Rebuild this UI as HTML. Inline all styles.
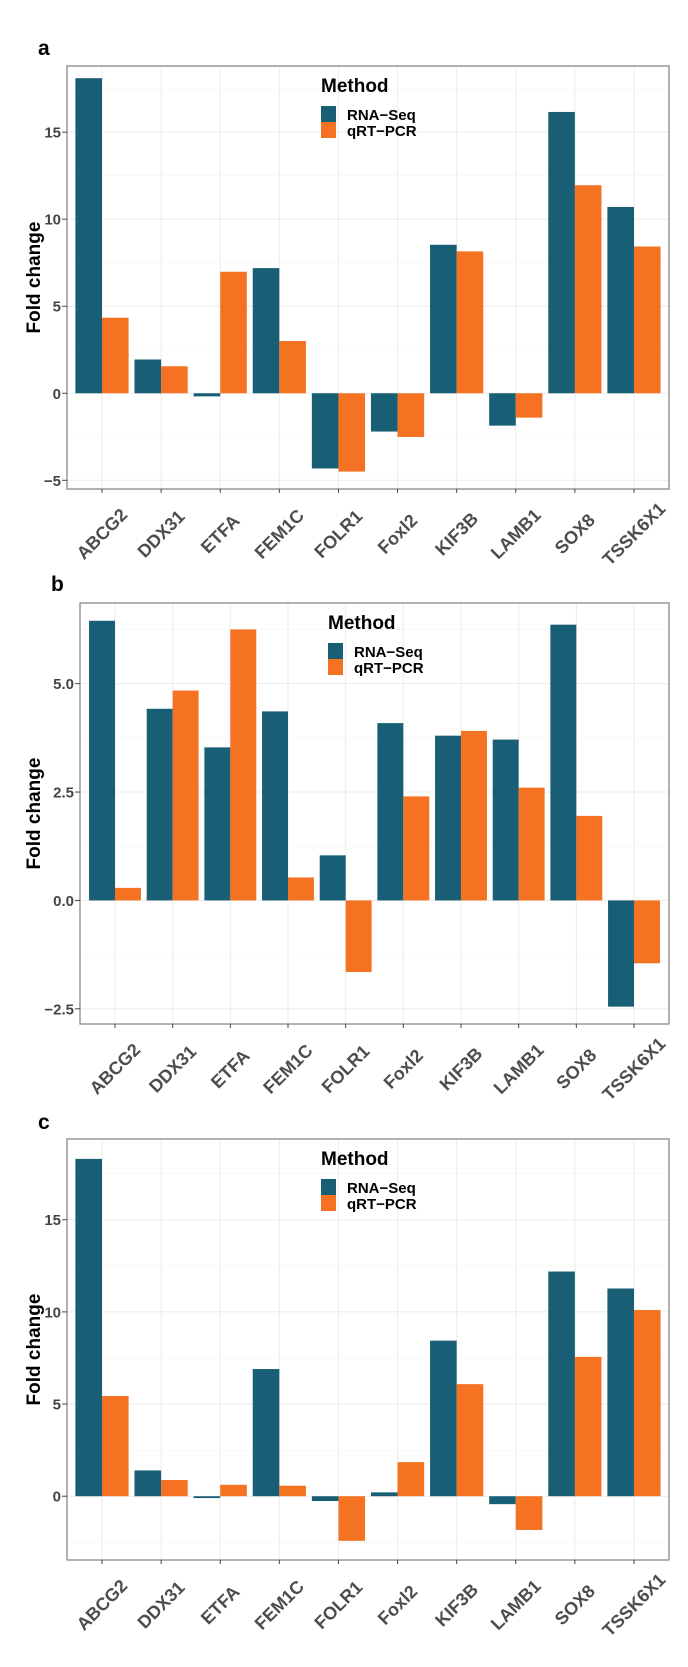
<!DOCTYPE html>
<html><head><meta charset="utf-8"><style>
html,body{margin:0;padding:0;background:#fff;}
svg{display:block;font-family:"Liberation Sans",Arial,sans-serif;}
</style></head><body>
<svg id="fig" width="688" height="1667" viewBox="0 0 688 1667"></svg>
<script>
const categories = ["ABCG2","DDX31","ETFA","FEM1C","FOLR1","Foxl2","KIF3B","LAMB1","SOX8","TSSK6X1"];
const seriesNames = ["RNA\u2212Seq","qRT\u2212PCR"];
const rnaA = [18.1,1.94,-0.18,7.19,-4.32,-2.2,8.53,-1.86,16.16,10.7];
const qpcrA = [4.34,1.55,6.98,3.0,-4.5,-2.51,8.15,-1.4,11.95,8.43];
const rnaB = [6.45,4.42,3.53,4.36,1.04,4.09,3.8,3.71,6.36,-2.45];
const qpcrB = [0.29,4.84,6.25,0.53,-1.65,2.4,3.91,2.6,1.95,-1.45];
const rnaC = [18.3,1.4,-0.1,6.9,-0.26,0.21,8.44,-0.43,12.19,11.27];
const qpcrC = [5.44,0.88,0.62,0.57,-2.42,1.85,6.08,-1.83,7.56,10.1];
const ticksA = [-5,0,5,10,15];
const tickLabelsA = ["\u22125","0","5","10","15"];
const ticksB = [-2.5,0,2.5,5];
const tickLabelsB = ["\u22122.5","0.0","2.5","5.0"];
const ticksC = [0,5,10,15];
const tickLabelsC = ["0","5","10","15"];

const NS="http://www.w3.org/2000/svg";
const svg=document.getElementById('fig');
const COLORS=["#185f75","#f47221"];
function mk(tag,attrs,parent){const e=document.createElementNS(NS,tag);for(const k in attrs)e.setAttribute(k,attrs[k]);(parent||svg).appendChild(e);return e;}

function panel(cfg){
  const g=mk('g',{});
  
  
  const L=cfg.left,R=669,T=cfg.top,B=cfg.bottom;
  const y=v=>T+(cfg.ymax-v)/(cfg.ymax-cfg.ymin)*(B-T);
  const n=categories.length;
  const step=(cfg.lastTick-cfg.firstTick)/(n-1);
  const x=i=>cfg.firstTick+i*step;
  const lt=mk('text',{x:cfg.letterX,y:cfg.letterY,'font-size':21,'font-weight':'bold',fill:'#000'},g);
  lt.textContent=cfg.letter;
  
  
  mk('rect',{x:L,y:T,width:R-L,height:B-T,fill:'#fff'},g);
  const grid=mk('g',{},g);
  
  
  const tk=cfg.ticks, d=tk[1]-tk[0];
  for(let v=tk[0]-d;v<=cfg.ymax+d;v+=d/2){
    const yy=y(v); if(yy<T||yy>B) continue;
    const major=tk.some(t=>Math.abs(t-v)<1e-6);
    mk('line',{x1:L,x2:R,y1:yy,y2:yy,stroke:major?'#ebebeb':'#f3f3f3','stroke-width':major?1:0.6},grid);
  }
  for(let i=0;i<n;i++) mk('line',{x1:x(i),x2:x(i),y1:T,y2:B,stroke:'#ebebeb','stroke-width':1},grid);
  const bw=step*0.45;
  [cfg.s1,cfg.s2].forEach((arr,si)=>{
    arr.forEach((v,i)=>{
      const x0=x(i)+(si===0?-bw:0);
      const y0=Math.min(y(v),y(0)), h=Math.abs(y(v)-y(0));
      const r=mk('rect',{x:x0,y:y0,width:bw,height:Math.max(h,0.8),fill:COLORS[si]},g);
      
      
    });
  });
  mk('rect',{x:L,y:T,width:R-L,height:B-T,fill:'none',stroke:'#7f7f7f','stroke-width':1.2},g);
  const ya=mk('g',{},g);
  
  
  cfg.ticks.forEach((t,i)=>{
    const yy=y(t);
    mk('line',{x1:L-5,x2:L,y1:yy,y2:yy,stroke:'#444','stroke-width':1},ya);
    const tx=mk('text',{x:L-6,y:yy+5.5,'font-size':15,'font-weight':'bold',fill:'#444','text-anchor':'end'},ya);
    tx.textContent=cfg.tickLabels[i];
  });
  const yt=mk('text',{x:0,y:0,'font-size':19,'font-weight':'bold',fill:'#000','text-anchor':'middle',transform:`translate(40,${(T+B)/2}) rotate(-90)`},g);
  yt.textContent='Fold change';
  
  
  const xa=mk('g',{},g);
  
  
  categories.forEach((c,i)=>{
    mk('line',{x1:x(i),x2:x(i),y1:B,y2:B+4,stroke:'#444','stroke-width':1},xa);
    const cy=B+45;
    const tx=mk('text',{x:x(i),y:cy,'font-size':18,'font-weight':'bold',fill:'#4d4d4d','text-anchor':'middle','dominant-baseline':'central',transform:`rotate(-45 ${x(i)} ${cy})`},xa);
    tx.textContent=c;
  });
  const lg=mk('g',{},g);
  
  
  const lx=cfg.legX;
  const ttl=mk('text',{x:lx,y:T+26,'font-size':19,'font-weight':'bold',fill:'#000'},lg);
  ttl.textContent='Method';
  seriesNames.forEach((s,si)=>{
    const by=T+40+si*16;
    mk('rect',{x:lx,y:by,width:15,height:16,fill:COLORS[si]},lg);
    const t=mk('text',{x:lx+26,y:by+14,'font-size':15,'font-weight':'bold',fill:'#000'},lg);
    t.textContent=s;
  });
}
panel({letter:'a',letterX:38,letterY:55,left:67,top:66,bottom:489,ymin:-5.5,ymax:18.8,
  ticks:ticksA,tickLabels:tickLabelsA,s1:rnaA,s2:qpcrA,firstTick:102,lastTick:634,legX:321});
panel({letter:'b',letterX:51,letterY:591,left:80,top:603,bottom:1024,ymin:-2.85,ymax:6.86,
  ticks:ticksB,tickLabels:tickLabelsB,s1:rnaB,s2:qpcrB,firstTick:115,lastTick:634,legX:328});
panel({letter:'c',letterX:38,letterY:1129,left:67,top:1139,bottom:1560,ymin:-3.46,ymax:19.38,
  ticks:ticksC,tickLabels:tickLabelsC,s1:rnaC,s2:qpcrC,firstTick:102,lastTick:634,legX:321});
</script>
</body></html>
